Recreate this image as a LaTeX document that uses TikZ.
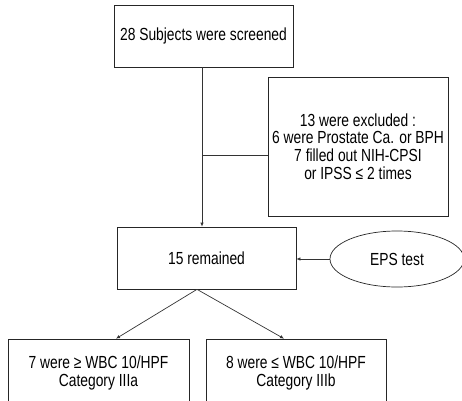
\documentclass[tikz,border=0pt]{standalone}
\usepackage{fontspec}
\setmainfont[FakeStretch=0.79]{Liberation Sans}
\usetikzlibrary{shapes.geometric,arrows.meta}
\begin{document}
\begin{tikzpicture}[x=1pt,y=1pt,
  box/.style={draw=black!85,line width=0.7pt,align=center,inner sep=0pt,font=\fontsize{17.5}{17.7}\selectfont},
  conn/.style={draw=black!80,line width=0.7pt},
  arr/.style={conn,-{Latex[length=4pt,width=3.5pt]}}]
\useasboundingbox (0,0) rectangle (462,400);
\clip (0,0) rectangle (462,400);
\node[box,minimum width=179pt,minimum height=62pt] (b1) at (203.5,364) {28 Subjects were screened};
\node[box,minimum width=180pt,minimum height=139pt] (b2) at (358,253.5) {13 were excluded :\\6 were Prostate Ca. or BPH\\7 filled out NIH-CPSI\\or IPSS ≤ 2 times};
\node[box,minimum width=179pt,minimum height=62pt] (b3) at (206.5,142) {15 remained};
\node[box,ellipse,minimum width=134pt,minimum height=56pt] (eps) at (397,141) {EPS test};
\node[box,minimum width=181pt,minimum height=68pt] (b4) at (98.5,27) {7 were ≥ WBC 10/HPF\\Category IIIa};
\node[box,minimum width=180pt,minimum height=68pt] (b5) at (296,27) {8 were ≤ WBC 10/HPF\\Category IIIb};
\coordinate (top) at ([xshift=-1.5pt]b1.south);
\coordinate (branch) at (top |- 0,245);
\draw[arr] (top) -- (top |- b3.north);
\draw[conn] (branch) -- (branch -| b2.west);
\draw[arr] (eps.west) -- (eps.west -| b3.east);
\coordinate (split) at ([xshift=-9.5pt]b3.south);
\draw[arr] (split) -- ([xshift=17.5pt]b4.north);
\draw[arr] (split) -- ([xshift=-12pt]b5.north);
\end{tikzpicture}
\end{document}
